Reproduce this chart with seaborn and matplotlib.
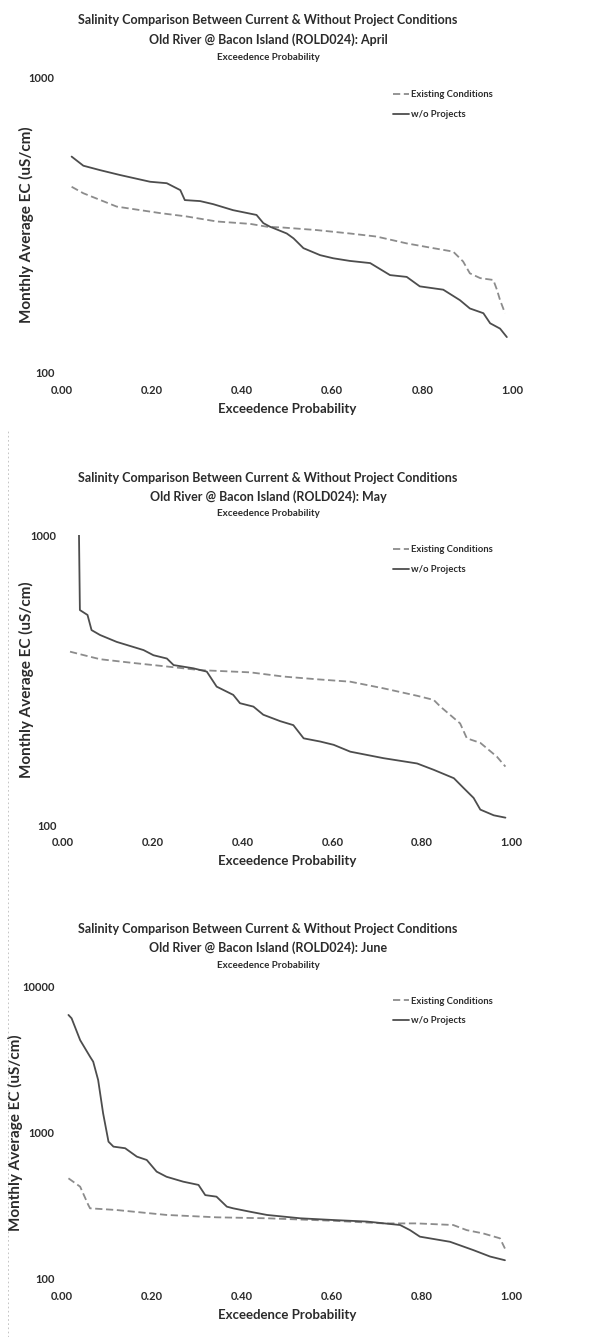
import pandas as pd
import matplotlib.pyplot as plt
import matplotlib.lines as mlines
import seaborn as sns

# Values (x = exceedence probability, y = EC in uS/cm)
apr_exist_x = [0.022, 0.048, 0.122, 0.218, 0.277, 0.344, 0.418, 0.455, 0.491, 0.565, 0.639, 0.698,
               0.765, 0.824, 0.868, 0.890, 0.905, 0.928, 0.957, 0.965, 0.972, 0.983]
apr_exist_y = [426, 405, 365, 347, 338, 325, 319, 312, 310, 304, 296, 289,
               274, 264, 257, 238, 217, 209, 206, 191, 176, 159]
apr_wo_x = [0.022, 0.048, 0.085, 0.129, 0.196, 0.233, 0.263, 0.273, 0.307, 0.336, 0.380, 0.432,
            0.447, 0.462, 0.499, 0.514, 0.536, 0.573, 0.602, 0.639, 0.684, 0.728, 0.765, 0.794,
            0.846, 0.883, 0.905, 0.935, 0.950, 0.972, 0.987]
apr_wo_y = [539, 502, 485, 467, 443, 438, 415, 384, 381, 372, 355, 342,
            321, 312, 296, 285, 264, 250, 244, 239, 235, 214, 211, 196,
            191, 176, 165, 159, 147, 141, 132]

may_exist_x = [0.015, 0.052, 0.082, 0.156, 0.231, 0.305, 0.417, 0.491, 0.566, 0.640, 0.714, 0.789,
               0.826, 0.841, 0.885, 0.900, 0.930, 0.967, 0.986]
may_exist_y = [396, 383, 373, 362, 352, 342, 336, 325, 318, 312, 296, 279,
               270, 256, 224, 199, 192, 172, 159]
may_wo_x = [0.035, 0.037, 0.054, 0.063, 0.082, 0.119, 0.179, 0.201, 0.231, 0.246, 0.290, 0.320,
            0.342, 0.379, 0.394, 0.424, 0.446, 0.484, 0.513, 0.536, 0.573, 0.603, 0.640, 0.714,
            0.789, 0.826, 0.871, 0.893, 0.915, 0.930, 0.960, 0.986]
may_wo_y = [1000, 551, 530, 470, 452, 428, 401, 385, 375, 356, 347, 338,
            300, 281, 263, 256, 240, 228, 221, 199, 194, 189, 179, 170,
            163, 155, 145, 134, 124, 113, 108, 106]

jun_exist_x = [0.015, 0.041, 0.059, 0.063, 0.122, 0.233, 0.344, 0.456, 0.604, 0.715, 0.789, 0.870,
               0.900, 0.937, 0.974, 0.985]
jun_exist_y = [485, 425, 319, 302, 294, 272, 262, 258, 248, 238, 238, 232,
               214, 203, 188, 160]
jun_wo_x = [0.015, 0.022, 0.041, 0.063, 0.070, 0.081, 0.092, 0.104, 0.115, 0.141, 0.167, 0.189,
            0.211, 0.233, 0.270, 0.304, 0.319, 0.344, 0.367, 0.381, 0.419, 0.456, 0.530, 0.604,
            0.678, 0.752, 0.774, 0.796, 0.863, 0.915, 0.952, 0.985]
jun_wo_y = [6400, 6070, 4300, 3310, 3060, 2290, 1355, 865, 800, 780, 683, 648,
            539, 497, 460, 437, 372, 363, 310, 302, 286, 272, 258, 251,
            245, 232, 214, 193, 178, 156, 141, 133]

months = ["April", "May", "June"]
series = ["Existing Conditions", "w/o Projects"]
x_ticks = [0.0, 0.2, 0.4, 0.6, 0.8, 1.0]
x_tick_labels = ["0.00", "0.20", "0.40", "0.60", "0.80", "1.00"]
y_ticks = {"April": [100, 1000], "May": [100, 1000], "June": [100, 1000, 10000]}

curves = {
    "April": [(apr_exist_x, apr_exist_y), (apr_wo_x, apr_wo_y)],
    "May": [(may_exist_x, may_exist_y), (may_wo_x, may_wo_y)],
    "June": [(jun_exist_x, jun_exist_y), (jun_wo_x, jun_wo_y)],
}

sns.set_style("white")
plt.rcParams['font.family'] = ['Lato', 'DejaVu Sans']
plt.rcParams['font.weight'] = 'bold'
txt = '#2b2b2b'

W, H = 589, 1337
fig = plt.figure(figsize=(W / 100, H / 100), dpi=100)

# panel layout in pixels: (left, right, top, bottom, title rows, legend row, ylabel x)
layout = {
    "April": (61.7, 512.7, 77.3, 372.7, (20, 40, 57), 93, -0.062),
    "May": (63.3, 511.7, 535, 825, (478, 497, 514), 548, -0.066),
    "June": (61.7, 511.7, 986.7, 1278.3, (929, 948, 966), 999, -0.086),
}

palette = {"Existing Conditions": "#8c8c8c", "w/o Projects": "#4d4d4d"}
dashes = {"Existing Conditions": (4, 2), "w/o Projects": ""}

for month in months:
    l, r, t, b, trows, leg_y, ylab_x = layout[month]
    ax = fig.add_axes([l / W, 1 - b / H, (r - l) / W, (b - t) / H])

    frames = []
    for name, (xs, ys) in zip(series, curves[month]):
        frames.append(pd.DataFrame({"prob": xs, "ec": ys, "series": name}))
    df = pd.concat(frames, ignore_index=True)

    sns.lineplot(data=df, x="prob", y="ec", hue="series", style="series",
                 hue_order=series, style_order=series, palette=palette,
                 dashes=dashes, estimator=None, sort=False, linewidth=1.3, ax=ax)

    ax.set_yscale('log')
    yt = y_ticks[month]
    ax.set_ylim(yt[0], yt[-1])
    ax.set_yticks(yt)
    ax.set_yticklabels([str(v) for v in yt])
    ax.minorticks_off()
    ax.set_xlim(0, 1)
    ax.set_xticks(x_ticks)
    ax.set_xticklabels(x_tick_labels)
    ax.tick_params(axis='y', length=0, labelsize=8, labelcolor=txt, pad=5)
    ax.tick_params(axis='x', length=0, labelsize=8, labelcolor=txt, pad=9)
    for lab in ax.get_xticklabels() + ax.get_yticklabels():
        lab.set_fontweight('bold')
    for s in ax.spines.values():
        s.set_visible(False)

    ax.set_xlabel("Exceedence Probability", fontsize=9.5, fontweight='bold', color=txt, labelpad=5)
    ax.set_ylabel("Monthly Average EC (uS/cm)", fontsize=11, fontweight='bold', color=txt)
    ax.yaxis.set_label_coords(ylab_x, 0.5)

    leg = ax.legend(loc='upper left', bbox_to_anchor=(385 / W, 1 - (leg_y - 11) / H),
                    bbox_transform=fig.transFigure, frameon=False, fontsize=6.8,
                    handlelength=1.6, handletextpad=0.3, labelspacing=1.1)
    for t_ in leg.get_texts():
        t_.set_color(txt)
        t_.set_fontweight('bold')

    cx = 268 / W
    fig.text(cx, 1 - trows[0] / H, "Salinity Comparison Between Current & Without Project Conditions",
             ha='center', va='center', fontsize=9, fontweight='bold', color=txt)
    fig.text(cx, 1 - trows[1] / H, "Old River @ Bacon Island (ROLD024): " + month,
             ha='center', va='center', fontsize=9, fontweight='bold', color=txt)
    fig.text(cx, 1 - trows[2] / H, "Exceedence Probability",
             ha='center', va='center', fontsize=7, fontweight='bold', color=txt)

# faint scan edge on the left
fig.add_artist(mlines.Line2D([8 / W, 8 / W], [0, 1 - 430 / H], color='#bbbbbb',
                             linewidth=0.6, linestyle=(0, (2, 3)), transform=fig.transFigure))

fig.savefig("out.png", dpi=100)
